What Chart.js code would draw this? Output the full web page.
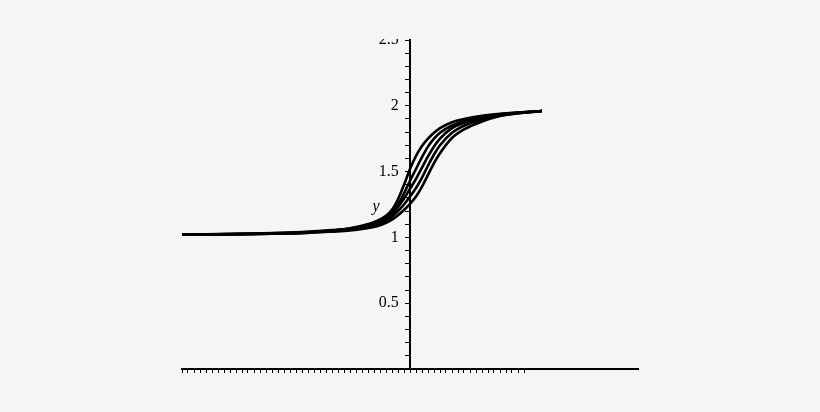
<!DOCTYPE html>
<html>
<head>
<meta charset="utf-8">
<script src="https://cdn.jsdelivr.net/npm/chart.js@4/dist/chart.umd.min.js"></script>
<style>
  html, body { margin: 0; padding: 0; background: #f5f5f5; }
  #wrap { width: 820px; height: 412px; position: relative; }
</style>
</head>
<body>
<div id="wrap"><canvas id="c"></canvas></div>
<script>
// x positions (shared by all curves)
const xValues = [-3.8, -3.2, -2.5, -1.8, -1.3, -1.0, -0.75, -0.55, -0.4, -0.3, -0.2, -0.1, 0, 0.1, 0.2, 0.3, 0.4, 0.5, 0.7, 0.9, 1.2, 1.5, 1.85, 2.2];
// five curves, from leftmost (top) to rightmost (bottom)
const curveA = [1.02, 1.025, 1.03, 1.04, 1.055, 1.07, 1.095, 1.125, 1.165, 1.21, 1.29, 1.40, 1.52, 1.62, 1.695, 1.75, 1.795, 1.83, 1.875, 1.90, 1.925, 1.94, 1.95, 1.96];
const curveB = [1.02, 1.024, 1.029, 1.038, 1.052, 1.067, 1.09, 1.112, 1.15, 1.19, 1.25, 1.335, 1.43, 1.52, 1.61, 1.69, 1.75, 1.795, 1.85, 1.885, 1.915, 1.935, 1.95, 1.96];
const curveC = [1.02, 1.023, 1.028, 1.036, 1.05, 1.063, 1.083, 1.105, 1.14, 1.175, 1.23, 1.295, 1.37, 1.445, 1.53, 1.615, 1.69, 1.75, 1.83, 1.87, 1.91, 1.932, 1.948, 1.96];
const curveD = [1.02, 1.022, 1.027, 1.034, 1.047, 1.058, 1.075, 1.095, 1.125, 1.155, 1.20, 1.25, 1.31, 1.375, 1.455, 1.545, 1.63, 1.70, 1.795, 1.848, 1.895, 1.928, 1.946, 1.96];
const curveE = [1.02, 1.021, 1.026, 1.032, 1.044, 1.053, 1.068, 1.085, 1.11, 1.135, 1.168, 1.208, 1.255, 1.31, 1.385, 1.475, 1.565, 1.64, 1.755, 1.82, 1.88, 1.922, 1.945, 1.96];
const curves = [curveA, curveB, curveC, curveD, curveE];
// axis ranges / labels
const xRange = [-3.8, 3.8];
const xTickedMax = 1.95;
const yRange = [0, 2.5];
const yLabelValues = [0.5, 1, 1.5, 2, 2.5];
const axisTitle = 'y';

const datasets = curves.map(ys => ({
  data: xValues.map((x, i) => ({ x: x, y: ys[i] })),
  borderColor: '#000',
  borderWidth: 2.6,
  pointRadius: 0,
  fill: false,
  cubicInterpolationMode: 'monotone'
}));

const decor = {
  id: 'decor',
  beforeDraw(chart) {
    const ctx = chart.ctx;
    ctx.save();
    ctx.beginPath();
    ctx.rect(0, 39, chart.width, chart.height - 39);
    ctx.clip();
  },
  afterDraw(chart) {
    const ctx = chart.ctx;
    const xs = chart.scales.x, ys = chart.scales.y;
    ctx.save();
    ctx.fillStyle = '#000';
    ctx.font = 'italic 16px "Liberation Serif", "DejaVu Serif", serif';
    ctx.textAlign = 'center';
    ctx.textBaseline = 'middle';
    ctx.fillText(axisTitle, xs.getPixelForValue(0) - 34, ys.getPixelForValue(1.23));
    ctx.restore();
    ctx.restore();
  }
};

new Chart(document.getElementById('c'), {
  type: 'line',
  data: { datasets: datasets },
  options: {
    responsive: true,
    maintainAspectRatio: false,
    animation: false,
    layout: { padding: { left: 182, right: 182, top: 40, bottom: 43 } },
    plugins: { legend: { display: false }, tooltip: { enabled: false } },
    scales: {
      x: {
        type: 'linear',
        position: { y: 0 },
        min: xRange[0], max: xRange[1],
        grid: {
          drawOnChartArea: false,
          drawTicks: true,
          tickLength: 3,
          tickWidth: 1,
          tickColor: (c) => (c.tick && c.tick.value <= xTickedMax + 1e-6) ? '#000' : 'rgba(0,0,0,0)'
        },
        border: { display: true, color: '#000', width: 2 },
        ticks: { stepSize: 0.1, autoSkip: false, maxRotation: 0, callback: () => '' }
      },
      y: {
        type: 'linear',
        position: { x: 0 },
        min: yRange[0], max: yRange[1],
        grid: { drawOnChartArea: false, drawTicks: true, tickLength: 4, tickWidth: 1, tickColor: '#000' },
        border: { display: true, color: '#000', width: 2 },
        ticks: {
          stepSize: 0.1,
          autoSkip: false,
          padding: 5,
          color: '#000',
          font: { family: '"Liberation Serif", "DejaVu Serif", serif', size: 16 },
          callback: (v) => {
            const r = Math.round(v * 10) / 10;
            // trailing spaces keep the right-aligned label clear of the tick marks
            return yLabelValues.some(l => Math.abs(l - r) < 1e-6) ? String(r) + '  \u2009' : '';
          }
        }
      }
    }
  },
  plugins: [decor]
});
</script>
</body>
</html>
